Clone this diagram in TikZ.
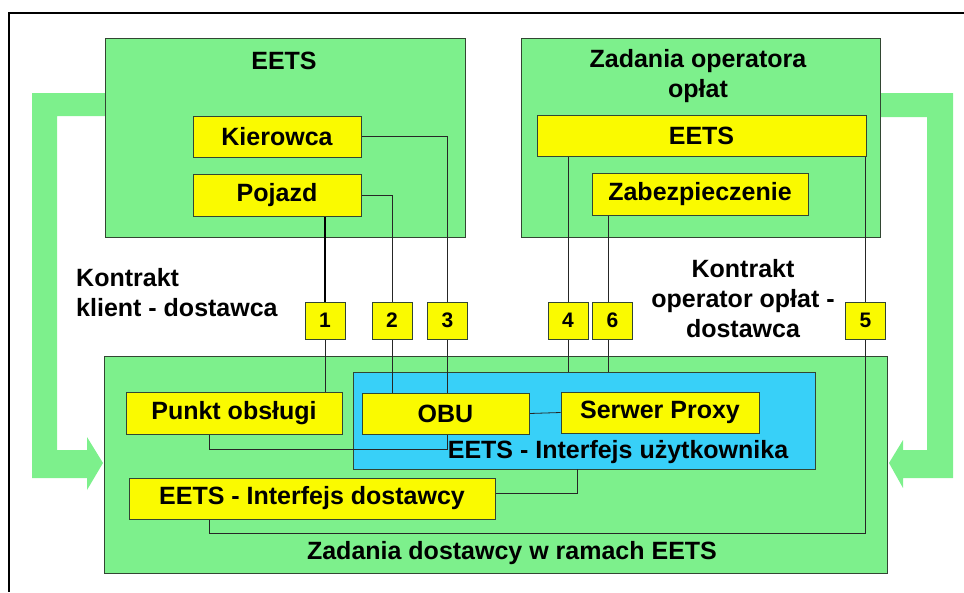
\documentclass[tikz,border=0pt]{standalone}
\usepackage{fontspec}
\setmainfont{Liberation Sans}
\usetikzlibrary{calc}
\pgfdeclarelayer{bg}
\pgfdeclarelayer{mid}
\pgfsetlayers{bg,mid,main}
\definecolor{lgreen}{RGB}{125,240,140}
\definecolor{yel}{RGB}{250,250,0}
\definecolor{lblue}{RGB}{56,208,248}
\definecolor{edge}{RGB}{50,70,50}
\tikzset{
  bigfont/.style={font=\fontsize{25}{30}\selectfont\bfseries},
  numfont/.style={font=\fontsize{21}{24}\selectfont\bfseries},
  greenbox/.style={draw=edge, line width=0.9pt, fill=lgreen, inner sep=0pt},
  bluebox/.style={draw=edge, line width=0.9pt, fill=lblue, inner sep=0pt},
  ybox/.style={draw=edge, line width=0.9pt, fill=yel, inner sep=0pt, bigfont},
  numbox/.style={draw=edge, line width=0.9pt, fill=yel, inner sep=0pt, numfont, minimum width=40pt, minimum height=37pt},
  wire/.style={draw=black!85, line width=0.8pt},
  thickwire/.style={draw=black, line width=1.4pt},
  label/.style={bigfont, inner sep=0pt},
  bigarrow/.style={fill=lgreen, draw=none},
}
\begin{document}
\begin{tikzpicture}[x=1pt,y=-1pt]
\useasboundingbox (0,0) rectangle (964,592);
% frame
\draw[line width=2.5pt] (964,13) -- (9,13) -- (9,592);

% big green arrows
\begin{pgfonlayer}{bg}
\fill[bigarrow] (32,93) -- (106,93) -- (106,116) -- (57,116) -- (57,450) -- (87,450) -- (87,437) -- (103,463) -- (87,490) -- (87,478) -- (32,478) -- cycle;
\fill[bigarrow] (879,93) -- (953,93) -- (953,478) -- (903,478) -- (903,488) -- (889,463) -- (903,440) -- (903,450) -- (927,450) -- (927,117) -- (879,117) -- cycle;
\end{pgfonlayer}

% containers
\begin{pgfonlayer}{bg}
\node[greenbox, minimum width=360pt, minimum height=199pt] (eetsbox) at (285,137.5) {};
\node[greenbox, minimum width=359pt, minimum height=199pt] (zadbox) at (700.5,137.5) {};
\node[greenbox, minimum width=783pt, minimum height=217pt] (dostbox) at (495.5,464.5) {};
\node[bluebox, minimum width=462pt, minimum height=97pt] (blue) at (584,420.5) {};
\end{pgfonlayer}

\node[label] (eetstitle) at (284,61) {EETS};
\node[ybox, minimum width=168pt, minimum height=41pt] (kier) at (277,136.5) {Kierowca};
\node[ybox, minimum width=168pt, minimum height=42pt] (poj) at (277,195) {Pojazd};

\node[label, align=center] (zadtitle) at (698,76) {Zadania operatora\\opłat};
\node[ybox, minimum width=329pt, minimum height=41pt] (eetsy) at (701.5,135.5) {EETS};
\node[ybox, minimum width=216pt, minimum height=42pt] (zab) at (700,194) {Zabezpieczenie};

\node[label, align=left, anchor=west] (kontr1) at (76,293) {Kontrakt\\klient - dostawca};
\node[label, align=center] (kontr2) at (743,299) {Kontrakt\\operator opłat -\\dostawca};

\node[numbox] (n1) at (325,320.5) {1};
\node[numbox] (n2) at (392,320.5) {2};
\node[numbox] (n3) at (447.5,320.5) {3};
\node[numbox] (n4) at (568,320.5) {4};
\node[numbox] (n6) at (612.5,320.5) {6};
\node[numbox] (n5) at (865.5,320.5) {5};

\node[ybox, minimum width=216pt, minimum height=42pt] (punkt) at (234,413) {Punkt obsługi};
\node[ybox, minimum width=167pt, minimum height=41pt] (obu) at (445.5,413.5) {OBU};
\node[ybox, minimum width=198pt, minimum height=41pt] (serw) at (660,412.5) {Serwer Proxy};
\node[label] (uzyt) at (618,452) {EETS - Interfejs użytkownika};
\node[ybox, minimum width=366pt, minimum height=41pt] (dost) at (312,498.5) {EETS - Interfejs dostawcy};
\node[label] (dosttitle) at (512,553) {Zadania dostawcy w ramach EETS};

\coordinate (c5) at (865.5,533);
\coordinate (d5) at (209,519);
\coordinate (x6) at (608.5,320.5);

% connectors
\begin{pgfonlayer}{mid}
\draw[thickwire] (poj.south -| n1) -- (n1.north);
\draw[wire] (n1.south) -- (n1 |- punkt.north);
\draw[wire] (poj.east) -| (n2.north);
\draw[wire] (n2.south) -- (n2 |- obu.north);
\draw[wire] (kier.east) -| (n3.north);
\draw[wire] (n3.south) -- (n3 |- obu.north);
\draw[wire] (eetsy.south -| n4) -- (n4.north);
\draw[wire] (n4.south) -- (n4 |- blue.north);
\draw[wire] (zab.south -| x6) -- (x6 |- n6.north);
\draw[wire] (x6 |- n6.south) -- (x6 |- blue.north);
\draw[wire] (eetsy.south -| n5) -- (n5.north);
\draw[wire] (n5.south) -- (c5) -| (d5);
\draw[wire] ([xshift=-25pt]punkt.south) -- ++(0,15) -| (n3 |- obu.south);
\draw[wire] (obu.east) -- (serw.west);
\draw[wire] ([xshift=-7pt]blue.south) |- ([yshift=5.5pt]dost.east);
\end{pgfonlayer}
\end{tikzpicture}
\end{document}
